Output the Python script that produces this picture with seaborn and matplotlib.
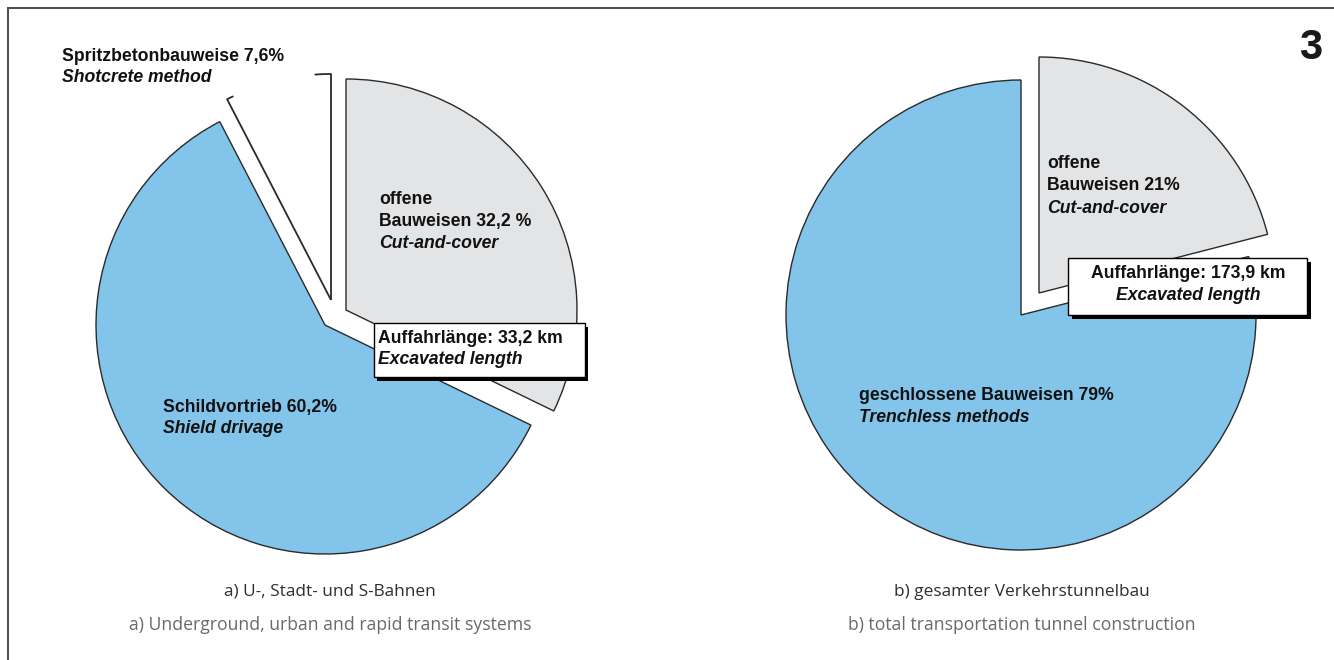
import matplotlib
matplotlib.use("Agg")
import numpy as np
import matplotlib.pyplot as plt
from matplotlib.patches import Rectangle
import seaborn as sns

# ---- data -------------------------------------------------------------
# a) U-, Stadt- und S-Bahnen (order: offene, Schildvortrieb, Spritzbeton)
a_shares = [32.2, 60.2, 7.6]
a_labels_de = [["offene", "Bauweisen 32,2 %"], ["Schildvortrieb 60,2%"], ["Spritzbetonbauweise 7,6%"]]
a_labels_en = ["Cut-and-cover", "Shield drivage", "Shotcrete method"]
a_length = "Auffahrlänge: 33,2 km"

# b) gesamter Verkehrstunnelbau (order: offene, geschlossene)
b_shares = [21, 79]
b_labels_de = [["offene", "Bauweisen 21%"], ["geschlossene Bauweisen 79%"]]
b_labels_en = ["Cut-and-cover", "Trenchless methods"]
b_length = "Auffahrlänge: 173,9 km"

length_en = "Excavated length"
captions_de = ["a) U-, Stadt- und S-Bahnen", "b) gesamter Verkehrstunnelbau"]
captions_en = ["a) Underground, urban and rapid transit systems",
               "b) total transportation tunnel construction"]
figure_number = "3"

GREY = "#e3e4e6"
BLUE = "#83c4ea"
WHITE = "#ffffff"
EDGE = "#2a2a2a"

# ---- figure ------------------------------------------------------------
sns.set_theme(style="white")
plt.rcParams["font.family"] = ["Liberation Sans", "DejaVu Sans"]

W, H = 1334, 660
fig = plt.figure(figsize=(W / 100, H / 100), dpi=100)
ax = fig.add_axes([0, 0, 1, 1])


def Y(py):
    """Convert a top-down pixel row into the upward data axis."""
    return H - py


LBL = dict(fontsize=12.7, fontweight="bold", color="#111111", va="baseline")

# ---- pie a ---------------------------------------------------------------
wa, _ = ax.pie(a_shares, colors=[GREY, BLUE, WHITE], startangle=90,
               counterclock=False, radius=229, center=(325, Y(325)), frame=True,
               wedgeprops=dict(edgecolor=EDGE, linewidth=1.0))
wa[0].set_center((346, Y(310)))
wa[0].set_radius(231)
# pulled-out shotcrete slice: outlined along its straight sides only
ws = wa[2]
ws.set_center((331, Y(300)))
ws.set_radius(226)
ws.set_edgecolor("none")
cx, cy = ws.center
r = ws.r
for th in (ws.theta1, ws.theta2):
    t = np.radians(th)
    ax.plot([cx, cx + r * np.cos(t)], [cy, cy + r * np.sin(t)],
            color=EDGE, lw=1.3, solid_capstyle="butt")
for a0, a1 in ((ws.theta1, ws.theta1 + 4.0), (ws.theta2 - 1.6, ws.theta2)):
    t = np.radians(np.linspace(a0, a1, 10))
    ax.plot(cx + r * np.cos(t), cy + r * np.sin(t), color=EDGE, lw=1.3)

# labels a
ax.text(379, Y(204), a_labels_de[0][0], **LBL)
ax.text(379, Y(226), a_labels_de[0][1], **LBL)
ax.text(379, Y(248), a_labels_en[0], fontstyle="italic", **LBL)
ax.text(163, Y(412), a_labels_de[1][0], **LBL)
ax.text(163, Y(433), a_labels_en[1], fontstyle="italic", **LBL)
ax.text(62, Y(61), a_labels_de[2][0], **LBL)
ax.text(62, Y(82), a_labels_en[2], fontstyle="italic", **LBL)

# length box a
ax.add_patch(Rectangle((377, Y(381)), 211, 54, facecolor="black", edgecolor="none", zorder=5))
ax.add_patch(Rectangle((374, Y(377)), 211, 54, facecolor="white", edgecolor="black", lw=1.0, zorder=6))
ax.text(378, Y(343), a_length, zorder=7, **LBL)
ax.text(378, Y(364), length_en, fontstyle="italic", zorder=7, **LBL)

# ---- pie b ---------------------------------------------------------------
wb, _ = ax.pie(b_shares, colors=[GREY, BLUE], startangle=90,
               counterclock=False, radius=235, center=(1021, Y(315)), frame=True,
               wedgeprops=dict(edgecolor=EDGE, linewidth=1.0))
wb[0].set_center((1039, Y(293)))
wb[0].set_radius(236)

ax.text(1047, Y(168), b_labels_de[0][0], **LBL)
ax.text(1047, Y(190), b_labels_de[0][1], **LBL)
ax.text(1047, Y(213), b_labels_en[0], fontstyle="italic", **LBL)
ax.text(859, Y(400), b_labels_de[1][0], **LBL)
ax.text(859, Y(422), b_labels_en[1], fontstyle="italic", **LBL)

ax.add_patch(Rectangle((1072, Y(319)), 239, 57, facecolor="black", edgecolor="none", zorder=5))
ax.add_patch(Rectangle((1068, Y(315)), 239, 57, facecolor="white", edgecolor="black", lw=1.0, zorder=6))
ax.text(1188, Y(278), b_length, ha="center", zorder=7, **LBL)
ax.text(1188, Y(300), length_en, ha="center", fontstyle="italic", zorder=7, **LBL)

# ---- captions, figure number, frame --------------------------------------
CAP = ["Open Sans", "DejaVu Sans"]
for x, de, en in zip((330, 1022), captions_de, captions_en):
    ax.text(x, Y(596), de, ha="center", va="baseline", fontsize=12.4,
            color="#2e2e2e", family=CAP)
    ax.text(x, Y(630), en, ha="center", va="baseline", fontsize=12.7,
            color="#6a6a6a", family=CAP)
ax.text(1322, Y(59), figure_number, ha="right", va="baseline", fontsize=30,
        fontweight="bold", color="#1a1a1a")

ax.plot([8, 8, W + 5], [-5, Y(8), Y(8)], color="#4a4a4a", lw=1.4,
        solid_joinstyle="miter")

ax.set_xlim(0, W)
ax.set_ylim(0, H)
ax.set_aspect("equal")
ax.axis("off")

fig.savefig("out.png", dpi=100, facecolor="white")
